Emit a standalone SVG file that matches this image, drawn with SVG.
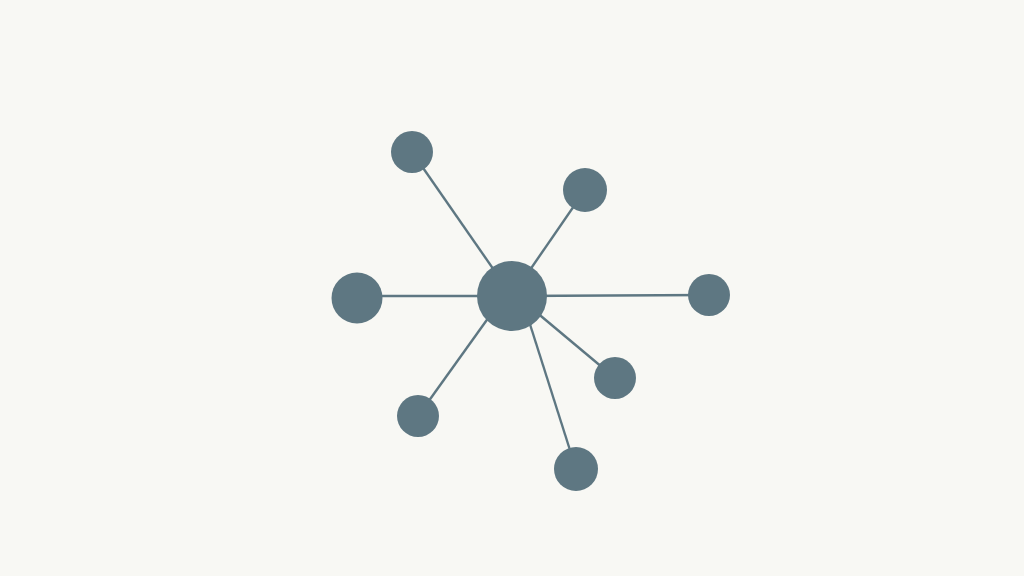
<svg xmlns="http://www.w3.org/2000/svg" width="1024" height="576" viewBox="0 0 1024 576">
<style>
.n{fill:#5e7782}
.e{stroke:#5e7782;stroke-width:2.4;fill:none}
</style>
<rect width="1024" height="576" fill="#f8f8f4"/>
<g id="connectors">
<line class="e" x1="512" y1="296" x2="412" y2="152"/>
<line class="e" x1="512" y1="296" x2="585" y2="190"/>
<line class="e" x1="512" y1="296" x2="357" y2="296"/>
<line class="e" x1="512" y1="296" x2="709" y2="295"/>
<line class="e" x1="517" y1="296" x2="615" y2="378"/>
<line class="e" x1="504" y1="296" x2="418" y2="416"/>
<line class="e" x1="521" y1="296" x2="576" y2="469"/>
</g>
<g id="hub"><circle class="n" cx="512" cy="296" r="35"/></g>
<g id="n1"><circle class="n" cx="412" cy="152" r="21"/></g>
<g id="n2"><circle class="n" cx="585" cy="190" r="22"/></g>
<g id="n3"><circle class="n" cx="357" cy="298" r="25.5"/></g>
<g id="n4"><circle class="n" cx="709" cy="295" r="21"/></g>
<g id="n5"><circle class="n" cx="615" cy="378" r="21"/></g>
<g id="n6"><circle class="n" cx="418" cy="416" r="21"/></g>
<g id="n7"><circle class="n" cx="576" cy="469" r="22"/></g>
</svg>
